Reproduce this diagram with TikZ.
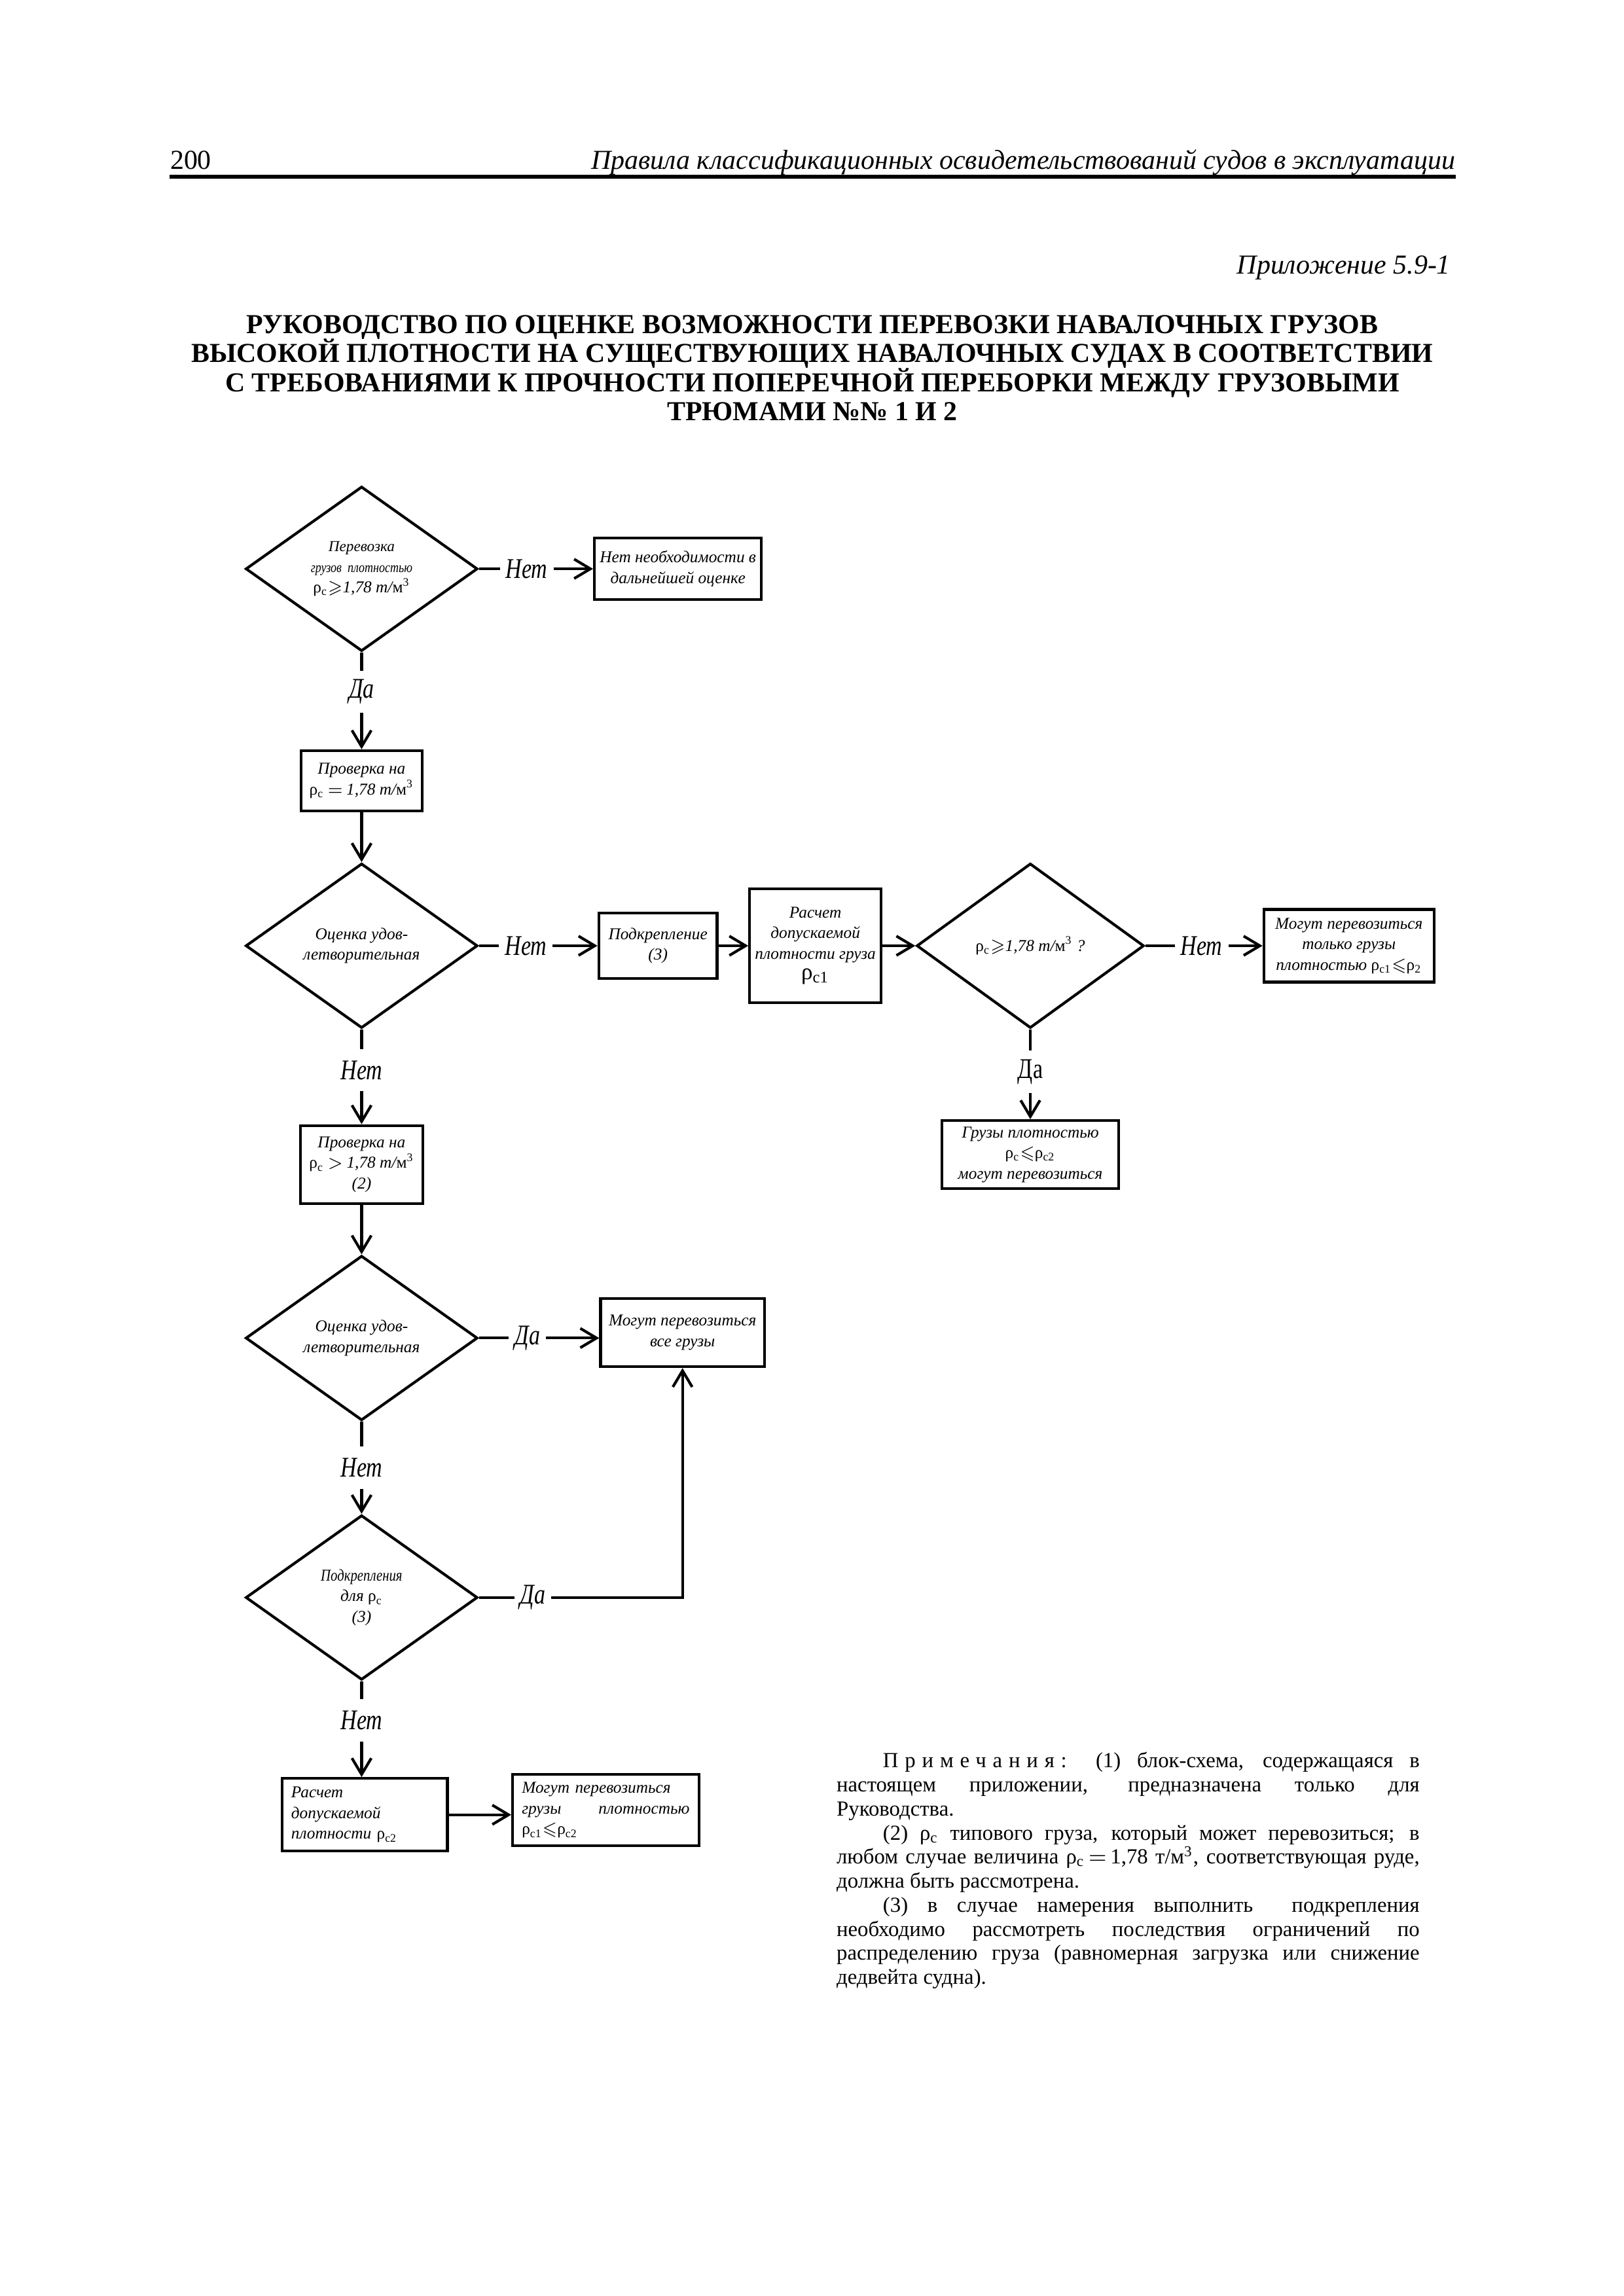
\documentclass[tikz,border=0pt]{standalone}
\usepackage{fontspec}
\usepackage{amssymb}
\setmainfont{Liberation Serif}
\usetikzlibrary{shapes.geometric, arrows.meta, positioning}
\setlength{\lineskiplimit}{-10pt}

\newcommand{\boxfont}{\itshape\fontsize{6.1}{7.6}\selectfont}
\newcommand{\lblfont}{\itshape\fontsize{10.5}{12}\selectfont\addfontfeature{FakeStretch=0.78}}
\newcommand{\rhoc}{{\upshape ρ}\textsubscript{\upshape c}}
\newcommand{\rhox}[1]{{\upshape ρ}\textsubscript{\upshape #1}}
\newcommand{\tm}{т/{\upshape м}\textsuperscript{\upshape 3}}

\tikzset{
	box/.style={draw, line width=1pt, inner sep=0.5mm, align=center, font=\boxfont},
	dec/.style={diamond, aspect=1.41, draw, line width=1pt, inner sep=0pt, minimum width=30mm, minimum height=21.3mm, align=center, font=\boxfont},
	lbl/.style={inner xsep=0.7mm, inner ysep=0pt, minimum height=5.3mm, font=\lblfont},
	con/.style={line width=1pt},
	arr/.style={con, -{Straight Barb[length=2.1mm, width=2.5mm, line width=1pt]}}
}

\begin{document}
\begin{tikzpicture}[x=0.993mm, y=-0.993mm]
	\def\cx{47.1}
	\useasboundingbox (0,0) rectangle (211.48,299.09);

	% page head
	\node[anchor=base west, inner sep=0, font=\fontsize{10.1}{12}\selectfont] (pagenum) at (22.1,22.0) {200};
	\node[anchor=base east, inner sep=0, font=\itshape\fontsize{10.1}{12}\selectfont] (runhead) at (189.6,22.0) {Правила классификационных освидетельствований судов в эксплуатации};
	\fill (22.1,22.8) rectangle (189.6,23.25);
	\node[anchor=base east, inner sep=0, font=\itshape\fontsize{10.1}{12}\selectfont] (appx) at (189.0,35.7) {Приложение 5.9-1};
	\node[anchor=north, inner sep=0, align=center, font=\bfseries\fontsize{10.1}{10.7}\selectfont] (title) at (105.8,41.0)
		{РУКОВОДСТВО ПО ОЦЕНКЕ ВОЗМОЖНОСТИ ПЕРЕВОЗКИ НАВАЛОЧНЫХ ГРУЗОВ\\
		 ВЫСОКОЙ ПЛОТНОСТИ НА СУЩЕСТВУЮЩИХ НАВАЛОЧНЫХ СУДАХ В СООТВЕТСТВИИ\\
		 С ТРЕБОВАНИЯМИ К ПРОЧНОСТИ ПОПЕРЕЧНОЙ ПЕРЕБОРКИ МЕЖДУ ГРУЗОВЫМИ\\
		 ТРЮМАМИ №№ 1 И 2};

	% first column
	\node[dec] (carry) at (\cx,74.1) {{\fontsize{5.6}{7.6}\selectfont Перевозка}\\
		{\fontsize{5.3}{7}\selectfont\addfontfeature{FakeStretch=0.82}грузов\ \ плотностью}\\
		\rhoc$\geqslant$1,78 \tm};
	\node[lbl] (no1) at (68.6,74.1) {Нет};
	\node[box, minimum width=21.6mm, minimum height=8mm] (nofurther) at (88.3,74.1) {Нет необходимости в\\дальнейшей оценке};
	\node[lbl] (yes1) at (\cx,90.1) {Да};
	\node[box, minimum width=15.7mm, minimum height=7.8mm] (checkeq) at (\cx,101.7) {Проверка на\\\rhoc$\,{=}\,$1,78 \tm};
	\node[dec] (assess1) at (\cx,123.2) {Оценка удов-\\летворительная};
	\node[lbl] (no2) at (68.5,123.2) {Нет};
	\node[box, minimum width=15.3mm, minimum height=8.4mm] (reinf1) at (85.7,123.2) {Подкрепление\\(3)};
	\node[box, minimum width=17mm, minimum height=14.7mm] (calc1) at (106.2,123.2) {Расчет\\допускаемой\\плотности груза\\
		{\upshape\fontsize{8.5}{10}\selectfont ρ\textsubscript{c1}}};
	\node[dec, minimum width=29.4mm] (rho) at (134.2,123.2) {\rhoc$\geqslant$1,78 \tm\ ?};
	\node[lbl] (no3) at (156.5,123.2) {Нет};
	\node[box, minimum width=22mm, minimum height=9.4mm] (only) at (175.7,123.2) {Могут перевозиться\\только грузы\\
		плотностью \rhox{c1}$\leqslant$\rhox{2}};
	\node[lbl, font=\upshape\fontsize{10.5}{12}\selectfont\addfontfeature{FakeStretch=0.78}] (yes2) at (134.2,139.6) {Да};
	\node[box, minimum width=22.9mm, minimum height=8.8mm] (upto) at (134.2,150.4) {Грузы плотностью\\\rhoc$\leqslant$\rhox{c2}\\могут перевозиться};
	\node[lbl] (no4) at (\cx,139.4) {Нет};
	\node[box, minimum width=15.8mm, minimum height=10.1mm] (checkgt) at (\cx,151.7) {Проверка на\\\rhoc$\,{>}\,$1,78 \tm\\(2)};
	\node[dec] (assess2) at (\cx,174.3) {Оценка удов-\\летворительная};
	\node[lbl] (yes3) at (68.7,174.3) {Да};
	\node[box, minimum width=21.2mm, minimum height=8.8mm] (all) at (88.9,173.6) {Могут перевозиться\\все грузы};
	\node[lbl] (no5) at (\cx,191.2) {Нет};
	\node[dec] (reinf2) at (\cx,208.1) {{\addfontfeature{FakeStretch=0.82}Подкрепления}\\для \rhoc\\(3)};
	\node[lbl] (yes4) at (69.4,208.1) {Да};
	\node[lbl] (no6) at (\cx,224.1) {Нет};
	\node[box, text width=19mm, align=left, inner xsep=1.2mm, minimum height=9.4mm] (calc2) at (47.5,236.4) {Расчет\\допускаемой\\плотности \rhox{c2}};
	\node[box, text width=21.7mm, align=left, inner xsep=1.2mm, minimum height=9.2mm] (both) at (78.9,235.8) {Могут перевозиться\\грузы\hfill плотностью\\\rhox{c1}$\leqslant$\rhox{c2}};

	% connectors
	\draw[con] (carry.east) -- (no1.west);
	\draw[arr] (no1.east) -- (nofurther.west);
	\draw[con] (carry.south) -- (yes1.north);
	\draw[arr] (yes1.south) -- (checkeq.north);
	\draw[arr] (checkeq.south) -- (assess1.north);
	\draw[con] (assess1.east) -- (no2.west);
	\draw[arr] (no2.east) -- (reinf1.west);
	\draw[arr] (reinf1.east) -- (calc1.west);
	\draw[arr] (calc1.east) -- (rho.west);
	\draw[con] (rho.east) -- (no3.west);
	\draw[arr] (no3.east) -- (only.west);
	\draw[con] (rho.south) -- (yes2.north);
	\draw[arr] (yes2.south) -- (upto.north);
	\draw[con] (assess1.south) -- (no4.north);
	\draw[arr] (no4.south) -- (checkgt.north);
	\draw[arr] (checkgt.south) -- (assess2.north);
	\draw[con] (assess2.east) -- (yes3.west);
	\draw[arr] (yes3.east) -- (yes3.east -| all.west);
	\draw[con] (assess2.south) -- (no5.north);
	\draw[arr] (no5.south) -- (reinf2.north);
	\draw[con] (reinf2.east) -- (yes4.west);
	\draw[arr] (yes4.east) -| (all.south);
	\draw[con] (reinf2.south) -- (no6.north);
	\draw[arr] (no6.south) -- (no6.south |- calc2.north);
	\draw[arr] (calc2.east) -- (calc2.east -| both.west);

	% notes
	\node[anchor=north west, inner sep=0, text width=75.4mm, align=justify, font=\fontsize{7.9}{8.85}\selectfont] (notes) at (108.9,228.2)
		{\hspace*{6mm}{\addfontfeature{LetterSpace=30}Примечания:} (1) блок-схема, содержащаяся в\linebreak
		 настоящем приложении, предназначена только для\linebreak Руководства.\par
		 \hspace*{6mm}(2) \rhoc{} типового груза, который может перевозиться; в\linebreak
		 любом случае величина \rhoc$\,{=}\,$1,78 т/м\textsuperscript{3}, соответствующая руде,\linebreak
		 должна быть рассмотрена.\par
		 \hspace*{6mm}(3) в случае намерения выполнить\ \ подкрепления\linebreak
		 необходимо рассмотреть последствия ограничений по\linebreak
		 распределению груза (равномерная загрузка или снижение\linebreak
		 дедвейта судна).};
\end{tikzpicture}
\end{document}
